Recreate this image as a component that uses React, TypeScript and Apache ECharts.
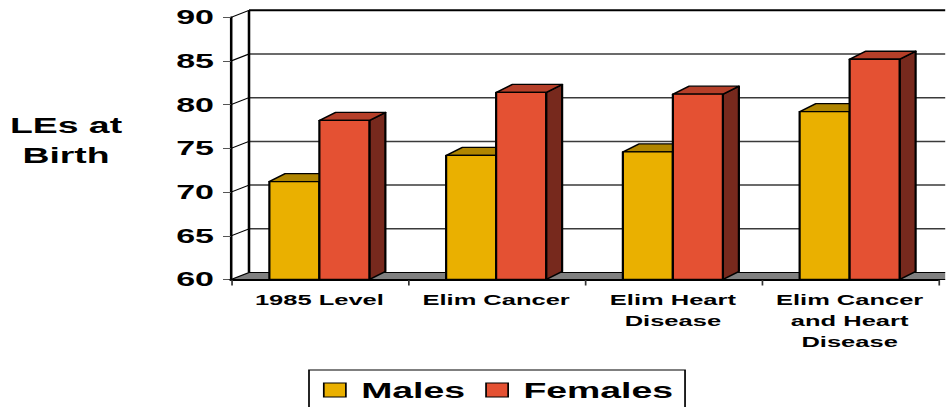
import React, { useEffect, useRef } from "react";
import * as echarts from "echarts";

// ---- data ----
const categories = ["1985 Level", "Elim Cancer", "Elim Heart\nDisease", "Elim Cancer\nand Heart\nDisease"];
const males = [71.2, 74.2, 74.6, 79.2];
const females = [78.2, 81.4, 81.2, 85.2];
const yTicks = [60, 65, 70, 75, 80, 85, 90];
const seriesNames = ["Males", "Females"];
const yTitle = "LEs at\nBirth";

// ---- layout (the reference is horizontally stretched; we stretch the whole chart) ----
const S = 1.7;
const W = 946 / S;
const H = 407;
const FONT = "'Liberation Sans', Arial, Helvetica, sans-serif";
const Y_MIN = 60;
const Y_MAX = 90;
const WALL_DX = 18 / S;
const WALL_DY = -7;
const BAR_DX = 16 / S;
const BAR_DY = -8;
const BAR_FRAC = 50 / 176.75;

const COLORS = {
  males: { front: "#EAB000", top: "#B08500", side: "#8C6A00" },
  females: { front: "#E45133", top: "#B53F29", side: "#77291D" },
};

function wallItem(params: any, api: any) {
  const t = api.value(1);
  const cs = params.coordSys;
  const xL = cs.x;
  const xR = cs.x + cs.width;
  const y = api.coord([0, t])[1];
  const children: any[] = [];
  if (t === Y_MIN) {
    children.push({
      type: "polygon",
      shape: { points: [[xL, y], [xR + 40, y], [xR + 40 + WALL_DX, y + WALL_DY], [xL + WALL_DX, y + WALL_DY]] },
      style: { fill: "#808080", stroke: "#000", lineWidth: 1 },
    });
  } else {
    children.push({
      type: "line",
      shape: { x1: xL + WALL_DX, y1: y + WALL_DY, x2: xR + 40, y2: y + WALL_DY },
      style: { stroke: t === Y_MAX ? "#000" : "#3a3a3a", lineWidth: t === Y_MAX ? 2 : 1.5 },
    });
    children.push({
      type: "line",
      shape: { x1: xL, y1: y, x2: xL + WALL_DX, y2: y + WALL_DY },
      style: { stroke: "#000", lineWidth: 1 },
    });
  }
  if (t === Y_MAX) {
    const y0 = api.coord([0, Y_MIN])[1];
    children.push({
      type: "line",
      shape: { x1: xL + WALL_DX, y1: y + WALL_DY, x2: xL + WALL_DX, y2: y0 + WALL_DY },
      style: { stroke: "#000", lineWidth: 1.5 },
    });
  }
  return { type: "group", children };
}

function makeBar(kind: number) {
  const c = kind === 0 ? COLORS.males : COLORS.females;
  return (params: any, api: any) => {
    const ci = api.value(0);
    const v = api.value(1);
    const top = api.coord([ci, v]);
    const base = api.coord([ci, Y_MIN]);
    const bw = api.size([1, 0])[0] * BAR_FRAC;
    const x0 = kind === 0 ? top[0] - bw : top[0];
    const x1 = x0 + bw;
    const yT = top[1];
    const yB = base[1];
    const st = { stroke: "#000", lineWidth: 1.3, lineJoin: "round" };
    return {
      type: "group",
      children: [
        {
          type: "polygon",
          shape: { points: [[x1, yB], [x1 + BAR_DX, yB + BAR_DY], [x1 + BAR_DX, yT + BAR_DY], [x1, yT]] },
          style: { fill: c.side, ...st },
        },
        {
          type: "polygon",
          shape: { points: [[x0, yT], [x1, yT], [x1 + BAR_DX, yT + BAR_DY], [x0 + BAR_DX, yT + BAR_DY]] },
          style: { fill: c.top, ...st },
        },
        {
          type: "rect",
          shape: { x: x0, y: yT, width: bw, height: yB - yT },
          style: { fill: c.front, ...st },
        },
      ],
    };
  };
}

export default function App() {
  const ref = useRef<HTMLDivElement>(null);
  useEffect(() => {
    if (!ref.current) return;
    const chart = echarts.init(ref.current, undefined, { renderer: "svg", width: W, height: H });
    chart.setOption({
      animation: false,
      backgroundColor: "#fff",
      textStyle: { fontFamily: FONT },
      grid: { left: 231 / S, right: (946 - 938) / S, top: 17.3, bottom: H - 279.5 },
      xAxis: {
        type: "category",
        data: categories,
        axisLine: { lineStyle: { color: "#000", width: 2 } },
        axisTick: { show: true, length: 6, interval: 0, lineStyle: { color: "#333", width: 1 } },
        axisLabel: {
          interval: 0,
          margin: 10,
          fontFamily: FONT,
          fontSize: 15,
          fontWeight: "bold",
          color: "#000",
          lineHeight: 21,
        },
        splitLine: { show: false },
      },
      yAxis: {
        type: "value",
        min: Y_MIN,
        max: Y_MAX,
        interval: 5,
        axisLine: { show: true, lineStyle: { color: "#000", width: 1.5 } },
        axisTick: { show: true, length: 8 / S, lineStyle: { color: "#555", width: 1 } },
        axisLabel: { margin: 10, fontFamily: FONT, fontSize: 20, fontWeight: "bold", color: "#000" },
        splitLine: { show: false },
      },
      legend: {
        left: 309 / S,
        top: 370,
        orient: "horizontal",
        icon: "rect",
        itemWidth: 13,
        itemHeight: 14,
        itemGap: 11.8,
        padding: [9, 7, 30, 8.2],
        borderColor: "#000",
        borderWidth: 1,
        selectedMode: false,
        textStyle: { fontFamily: FONT, fontSize: 22, fontWeight: "bold", color: "#000", padding: [0, 0, 0, 4], lineHeight: 22 },
        data: [
          { name: seriesNames[0], itemStyle: { color: COLORS.males.front, borderColor: "#000", borderWidth: 1 } },
          { name: seriesNames[1], itemStyle: { color: COLORS.females.front, borderColor: "#000", borderWidth: 1 } },
        ],
      },
      graphic: [
        {
          type: "text",
          left: undefined,
          x: 66 / S,
          y: 140,
          style: {
            text: yTitle,
            fontFamily: FONT,
            fontSize: 22,
            fontWeight: "bold",
            fill: "#000",
            align: "center",
            verticalAlign: "middle",
            lineHeight: 30,
          },
        },
      ],
      series: [
        {
          type: "custom",
          silent: true,
          renderItem: wallItem,
          encode: { x: 0, y: 1 },
          data: yTicks.map((t) => [0, t]),
          z: 1,
        },
        {
          type: "custom",
          name: seriesNames[0],
          silent: true,
          renderItem: makeBar(0),
          encode: { x: 0, y: 1 },
          itemStyle: { color: COLORS.males.front },
          data: males.map((v, i) => [i, v]),
          z: 2,
        },
        {
          type: "custom",
          name: seriesNames[1],
          silent: true,
          renderItem: makeBar(1),
          encode: { x: 0, y: 1 },
          itemStyle: { color: COLORS.females.front },
          data: females.map((v, i) => [i, v]),
          z: 2,
        },
      ],
    });
    return () => chart.dispose();
  }, []);
  return (
    <div
      style={{
        position: "fixed",
        left: 0,
        top: 0,
        width: 946,
        height: H,
        overflow: "hidden",
        background: "#fff",
      }}
    >
      <div
        ref={ref}
        style={{
          width: W,
          height: H,
          transform: `scaleX(${S})`,
          transformOrigin: "0 0",
        }}
      />
    </div>
  );
}
